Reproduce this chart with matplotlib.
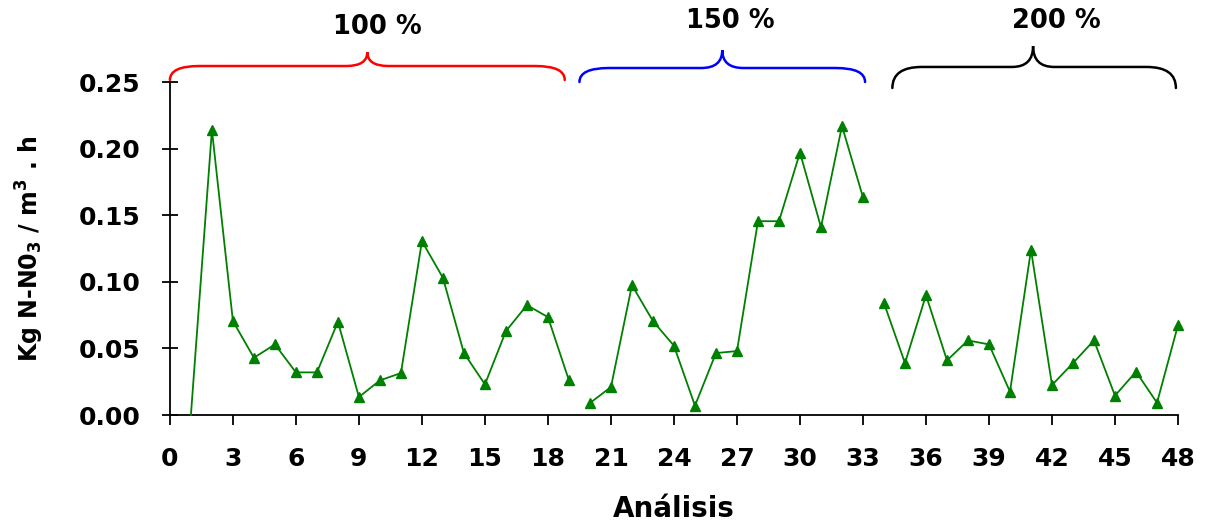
import numpy as np
import matplotlib
matplotlib.use("Agg")
import matplotlib.pyplot as plt
from matplotlib.path import Path
from matplotlib.patches import PathPatch

plt.rcParams["font.family"] = ["DejaVu Sans"]
plt.rcParams["font.weight"] = "bold"
plt.rcParams["mathtext.default"] = "bf"

# Nitrate load per analysis, grouped by dosing level
x_100 = list(range(1, 20))
y_100 = [0.000, 0.214, 0.0705, 0.043, 0.053, 0.032, 0.032, 0.070, 0.0135, 0.026,
         0.0315, 0.1305, 0.103, 0.0465, 0.023, 0.063, 0.0825, 0.0735, 0.026]
x_150 = list(range(20, 34))
y_150 = [0.009, 0.021, 0.0975, 0.0705, 0.052, 0.007, 0.0465, 0.048, 0.1455, 0.1455,
         0.197, 0.141, 0.217, 0.1635]
x_200 = list(range(34, 49))
y_200 = [0.084, 0.039, 0.090, 0.041, 0.056, 0.053, 0.0175, 0.124, 0.0225, 0.039,
         0.056, 0.0145, 0.0325, 0.0092, 0.0675]

group_labels = ["100 %", "150 %", "200 %"]
group_colors = ["#ff0000", "#0000ff", "#000000"]

x_ticks = list(range(0, 49, 3))
y_ticks = [0.00, 0.05, 0.10, 0.15, 0.20, 0.25]

fig = plt.figure(figsize=(12.05, 5.25), dpi=100)
ax = fig.add_axes([0.141, 0.2095, 0.8366, 0.6343])

green = "#008000"
for i, (xs, ys) in enumerate([(x_100, y_100), (x_150, y_150), (x_200, y_200)]):
    # the first reading of the series sits on the axis and carries no marker
    mk = list(range(1, len(xs))) if i == 0 else None
    ax.plot(xs, ys, color=green, lw=1.3, marker="^", markersize=7,
            markevery=mk, clip_on=False, zorder=3)

ax.set_xlim(0, 48)
ax.set_ylim(0, 0.25)
ax.set_xticks(x_ticks)
ax.set_yticks(y_ticks)
ax.set_yticklabels([f"{v:.2f}" for v in y_ticks])
ax.tick_params(axis="y", direction="inout", length=12, width=1.3, labelsize=18, pad=15)
ax.tick_params(axis="x", direction="out", length=7, width=1.3, labelsize=18, pad=16)
for lab in ax.get_xticklabels() + ax.get_yticklabels():
    lab.set_fontweight("bold")
for s in ("top", "right"):
    ax.spines[s].set_visible(False)
for s in ("left", "bottom"):
    ax.spines[s].set_linewidth(1.3)

ax.set_xlabel("Análisis", fontsize=20, fontweight="bold", labelpad=17)
ax.set_ylabel(r"Kg N-N0$_3$ / m$^3$ . h", fontsize=17, fontweight="bold", labelpad=24)


def brace(x0, x1, xm, y_end, y_flat, y_tip, r_end, r_tip, color):
    verts = [
        (x0, y_end), (x0, y_flat), (x0 + r_end, y_flat),
        (xm - r_tip, y_flat), (xm, y_flat), (xm, y_tip),
        (xm, y_flat), (xm + r_tip, y_flat),
        (x1 - r_end, y_flat), (x1, y_flat), (x1, y_end),
    ]
    codes = [Path.MOVETO, Path.CURVE3, Path.CURVE3,
             Path.LINETO, Path.CURVE3, Path.CURVE3,
             Path.CURVE3, Path.CURVE3,
             Path.LINETO, Path.CURVE3, Path.CURVE3]
    patch = PathPatch(Path(verts, codes), fill=False, edgecolor=color, lw=1.8,
                      transform=ax.transData, clip_on=False, capstyle="round")
    ax.add_patch(patch)


brace(0.0, 18.8, 9.4, 0.2515, 0.262, 0.2725, 1.4, 1.0, group_colors[0])
brace(19.5, 33.1, 26.3, 0.2500, 0.2605, 0.274, 1.4, 1.0, group_colors[1])
brace(34.4, 47.9, 41.1, 0.2455, 0.2613, 0.277, 1.4, 1.0, group_colors[2])

label_pos = [(9.9, 0.2915), (26.7, 0.2955), (42.2, 0.2955)]
for (lx, ly), txt in zip(label_pos, group_labels):
    ax.text(lx, ly, txt, ha="center", va="center", fontsize=18.5,
            fontweight="bold", clip_on=False)

fig.savefig("out.png", dpi=100)
